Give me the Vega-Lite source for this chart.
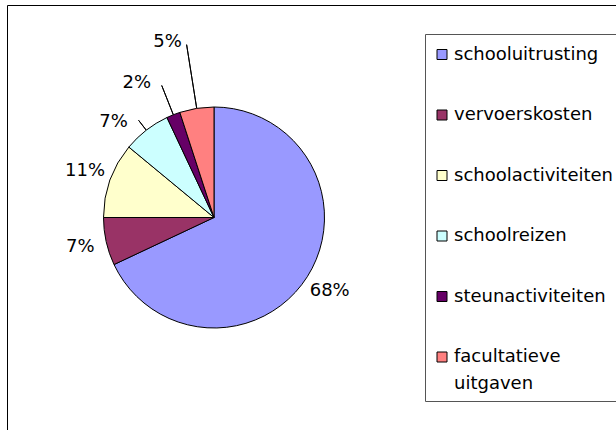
{
  "$schema": "https://vega.github.io/schema/vega-lite/v6.json",
  "width": 660,
  "height": 460,
  "autosize": "none",
  "padding": {"left": 7, "top": 5, "right": 0, "bottom": 0},
  "background": "white",
  "view": {"stroke": "#000000", "strokeWidth": 1},
  "config": {
    "view": {"stroke": "#000000", "strokeWidth": 1},
    "style": {"cell": {"stroke": "#000000", "strokeWidth": 1}, "guide-label": {"lineHeight": 27}},
    "font": "DejaVu Sans"
  },
  "data": {
    "values": [
      {"category": "schooluitrusting", "share": 0.68, "rank": 1},
      {"category": "vervoerskosten", "share": 0.07, "rank": 2},
      {"category": "schoolactiviteiten", "share": 0.11, "rank": 3},
      {"category": "schoolreizen", "share": 0.07, "rank": 4},
      {"category": "steunactiviteiten", "share": 0.02, "rank": 5},
      {"category": "facultatieve uitgaven", "share": 0.05, "rank": 6}
    ]
  },
  "encoding": {
    "theta": {"field": "share", "type": "quantitative", "stack": true},
    "order": {"field": "rank", "type": "quantitative"}
  },
  "layer": [
    {
      "mark": {"type": "arc", "innerRadius": 110.5, "outerRadius": 123, "padAngle": 3, "x": 207, "y": 212.5, "fill": "transparent", "stroke": "#000000", "strokeWidth": 1},
      "encoding": {"strokeOpacity": {"condition": {"test": "datum.rank == 4", "value": 1}, "value": 0}}
    },
    {
      "mark": {"type": "arc", "innerRadius": 110.5, "outerRadius": 142, "padAngle": 3, "x": 207, "y": 212.5, "fill": "transparent", "stroke": "#000000", "strokeWidth": 1},
      "encoding": {"strokeOpacity": {"condition": {"test": "datum.rank == 5", "value": 1}, "value": 0}}
    },
    {
      "mark": {"type": "arc", "innerRadius": 110.5, "outerRadius": 175, "padAngle": 3, "x": 207, "y": 212.5, "fill": "transparent", "stroke": "#000000", "strokeWidth": 1},
      "encoding": {"strokeOpacity": {"condition": {"test": "datum.rank == 6", "value": 1}, "value": 0}}
    },
    {
      "mark": {"type": "arc", "outerRadius": 110.5, "x": 207, "y": 212.5, "stroke": "#000000", "strokeWidth": 1},
      "encoding": {
        "color": {
          "field": "category",
          "type": "nominal",
          "sort": ["schooluitrusting", "vervoerskosten", "schoolactiviteiten", "schoolreizen", "steunactiviteiten", "facultatieve uitgaven"],
          "scale": {
            "domain": ["schooluitrusting", "vervoerskosten", "schoolactiviteiten", "schoolreizen", "steunactiviteiten", "facultatieve uitgaven"],
            "range": ["#9999FF", "#993366", "#FFFFCC", "#CCFFFF", "#660066", "#FF8080"]
          },
          "legend": {
            "orient": "none",
            "legendX": 418,
            "legendY": 29,
            "title": " ",
            "titleFontSize": 1,
            "titlePadding": 2.5,
            "padding": 8,
            "strokeColor": "#555555",
            "fillColor": "white",
            "symbolType": "square",
            "symbolSize": 100,
            "symbolStrokeColor": "#000000",
            "symbolStrokeWidth": 1,
            "symbolOpacity": 1,
            "labelFontSize": 18,
            "labelFont": "DejaVu Sans",
            "labelColor": "#000000",
            "labelOffset": 3,
            "rowPadding": 42.5,
            "labelLimit": 300,
            "labelExpr": "datum.label == 'facultatieve uitgaven' ? ['facultatieve', 'uitgaven'] : datum.label"
          }
        }
      }
    },
    {
      "mark": {"type": "text", "radius": 137, "x": 207, "y": 212.5, "fontSize": 18, "font": "DejaVu Sans", "color": "#000000"},
      "encoding": {
        "text": {"condition": {"test": "datum.rank <= 3", "field": "share", "type": "quantitative", "format": ".0%"}, "value": ""}
      }
    },
    {
      "mark": {"type": "text", "radius": 123, "x": 207, "y": 212.5, "dx": -25, "dy": 2, "fontSize": 18, "font": "DejaVu Sans", "color": "#000000"},
      "encoding": {
        "text": {"condition": {"test": "datum.rank == 4", "field": "share", "type": "quantitative", "format": ".0%"}, "value": ""}
      }
    },
    {
      "mark": {"type": "text", "radius": 142, "x": 207, "y": 212.5, "dx": -25, "dy": -2, "fontSize": 18, "font": "DejaVu Sans", "color": "#000000"},
      "encoding": {
        "text": {"condition": {"test": "datum.rank == 5", "field": "share", "type": "quantitative", "format": ".0%"}, "value": ""}
      }
    },
    {
      "mark": {"type": "text", "radius": 175, "x": 207, "y": 212.5, "dx": -19, "dy": -2.5, "fontSize": 18, "font": "DejaVu Sans", "color": "#000000"},
      "encoding": {
        "text": {"condition": {"test": "datum.rank == 6", "field": "share", "type": "quantitative", "format": ".0%"}, "value": ""}
      }
    }
  ]
}
